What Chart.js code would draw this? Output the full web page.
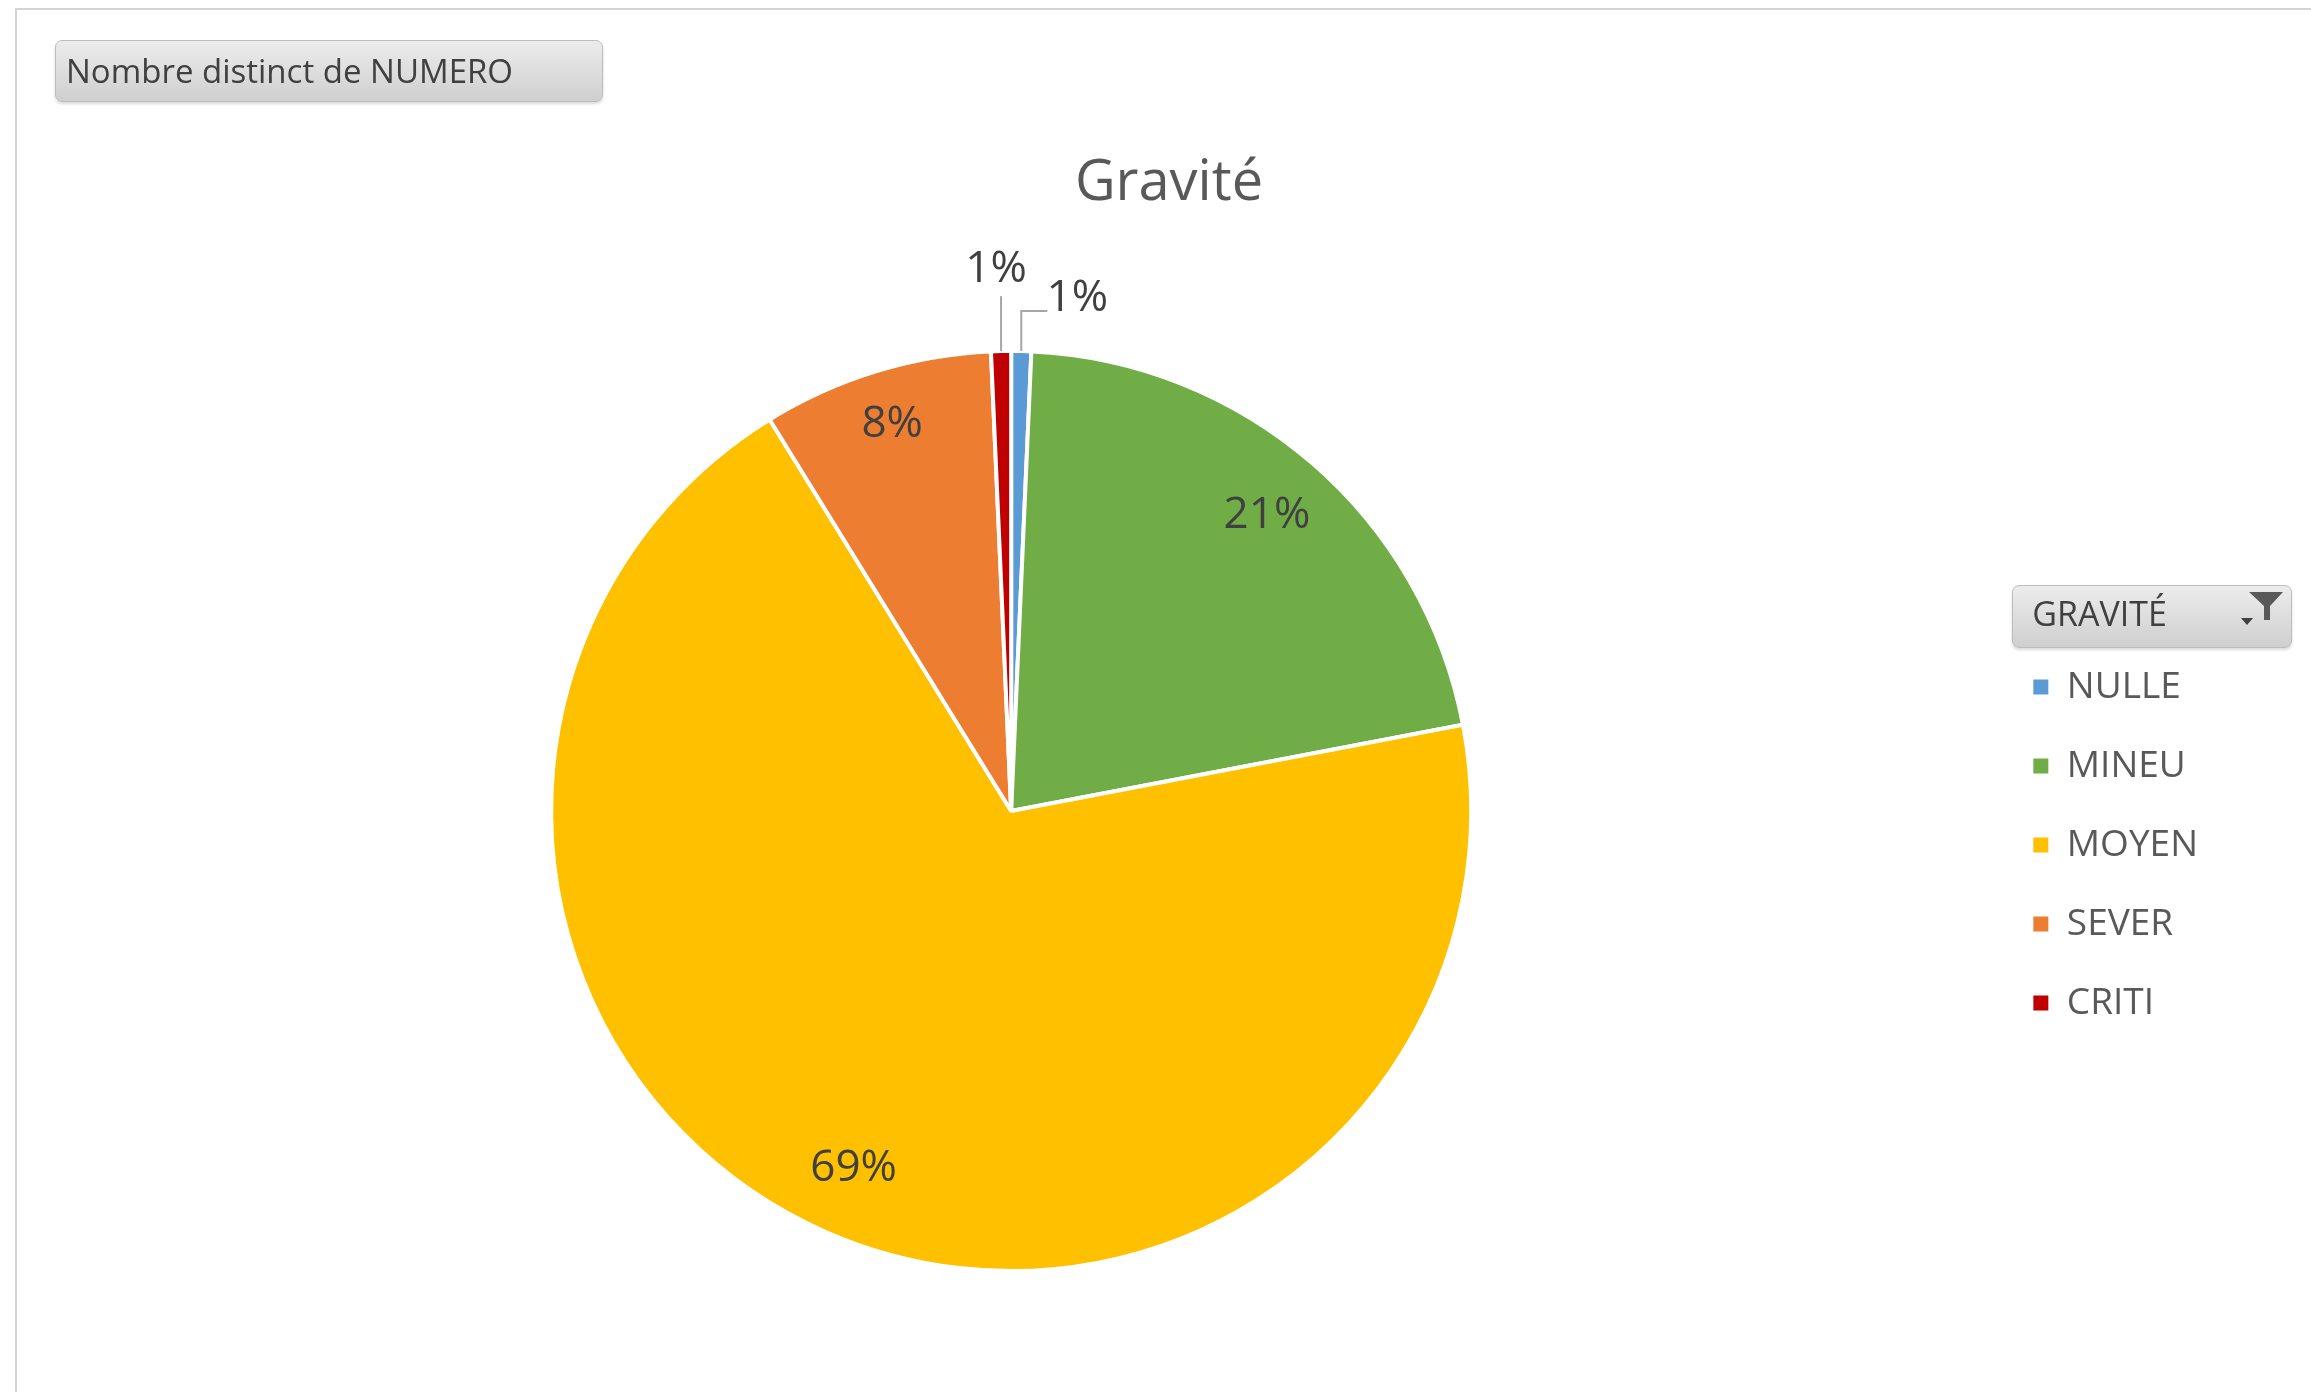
<!DOCTYPE html>
<html>
<head>
<meta charset="utf-8">
<script src="https://cdn.jsdelivr.net/npm/chart.js@4.4.1/dist/chart.umd.min.js"></script>
<style>
  body { margin: 0; background: #fff; font-family: 'Open Sans', sans-serif; }
  .frame { position: absolute; left: 15px; top: 8px; width: 2296px; height: 1384px; border-left: 2px solid #d4d4d4; border-top: 2px solid #d4d4d4; box-sizing: border-box; }
  .btn { position: absolute; border: 1px solid #bdbdbd; border-radius: 7px; background: linear-gradient(#ececec, #cfcfcf); box-shadow: 0 2px 3px rgba(0,0,0,0.15); color: #404040; box-sizing: border-box; }
  .field { left: 55px; top: 40px; width: 548px; height: 62px; font-size: 33px; line-height: 60px; padding-left: 10px; z-index: 2; }
  .legend-head { left: 2012px; top: 585px; width: 280px; height: 63px; }
  .legend-head svg { position: absolute; right: 6px; top: 4px; }
  .title { position: absolute; left: 869px; top: 150px; width: 600px; text-align: center; font-size: 56px; line-height: 56px; color: #595959; z-index: 2; }
  .wrap { position: absolute; left: 0; top: 0; width: 2311px; height: 1395px; z-index: 1; }
</style>
</head>
<body>
<div class="frame"></div>
<div class="btn legend-head">
  <svg width="46" height="40" viewBox="0 0 46 40">
    <path d="M10 2 H44 L31 16 V30 H25 V16 Z" fill="#595959"/>
    <path d="M2 28 H14 L8 35 Z" fill="#404040"/>
  </svg>
</div>
<div class="btn field">Nombre distinct de NUMERO</div>
<div class="title">Gravité</div>
<div class="wrap"><canvas id="pie"></canvas></div>
<script>
const categories = ['NULLE', 'MINEU', 'MOYEN', 'SEVER', 'CRITI'];
const shares = [0.7, 21.3, 69.2, 8.1, 0.7];
const sliceColors = ['#5B9BD5', '#70AD47', '#FFC000', '#ED7D31', '#C00000'];

// percentage labels: inside for big slices, outside with a leader line for tiny ones
const sliceLabels = {
    id: 'sliceLabels',
    afterDatasetsDraw(chart) {
        const ctx = chart.ctx;
        const meta = chart.getDatasetMeta(0);
        const total = shares.reduce((a, b) => a + b, 0);
        ctx.save();
        ctx.font = '44px "Open Sans"';
        ctx.fillStyle = '#404040';
        ctx.strokeStyle = '#a6a6a6';
        ctx.lineWidth = 2;
        ctx.textAlign = 'center';
        ctx.textBaseline = 'middle';
        meta.data.forEach((arc, i) => {
            const { x, y, startAngle, endAngle, outerRadius } = arc.getProps(['x', 'y', 'startAngle', 'endAngle', 'outerRadius'], true);
            const mid = (startAngle + endAngle) / 2;
            const text = Math.round(shares[i] / total * 100) + '%';
            if (shares[i] / total > 0.03) {
                const r = outerRadius * (shares[i] / total < 0.1 ? 0.88 : 0.85);
                ctx.fillText(text, x + Math.cos(mid) * r, y + Math.sin(mid) * r);
            } else {
                const ex = x + Math.cos(mid) * outerRadius;
                const ey = y + Math.sin(mid) * outerRadius;
                ctx.beginPath();
                if (Math.cos(mid) > 0) {
                    ctx.moveTo(ex, ey);
                    ctx.lineTo(ex, ey - 40);
                    ctx.lineTo(ex + 26, ey - 40);
                    ctx.stroke();
                    ctx.fillText(text, ex + 56, ey - 53);
                } else {
                    ctx.moveTo(ex, ey);
                    ctx.lineTo(ex, ey - 55);
                    ctx.stroke();
                    ctx.fillText(text, ex - 5, ey - 82);
                }
            }
        });
        ctx.restore();
    }
};

new Chart(document.getElementById('pie'), {
    type: 'pie',
    data: {
        labels: categories,
        datasets: [{
            data: shares,
            backgroundColor: sliceColors,
            borderColor: '#ffffff',
            borderWidth: 4
        }]
    },
    options: {
        responsive: true,
        maintainAspectRatio: false,
        animation: false,
        layout: {
            padding: { left: 31, right: 103, top: 349, bottom: 122 }
        },
        plugins: {
            tooltip: { enabled: false },
            title: { display: false },
            legend: {
                position: 'right',
                align: 'center',
                title: {
                    display: true,
                    text: 'GRAVITÉ',
                    position: 'center',
                    color: '#404040',
                    font: { family: 'Open Sans', size: 34, weight: 'normal', lineHeight: 1 },
                    padding: { top: 41, bottom: -7 }
                },
                labels: {
                    boxWidth: 15,
                    boxHeight: 15,
                    padding: 42,
                    color: '#595959',
                    font: { family: 'Open Sans', size: 37 },
                    generateLabels: (chart) => chart.data.labels.map((label, i) => ({
                        text: label,
                        fillStyle: sliceColors[i],
                        strokeStyle: sliceColors[i],
                        lineWidth: 0,
                        fontColor: '#595959',
                        hidden: false,
                        index: i
                    }))
                }
            }
        }
    },
    plugins: [sliceLabels]
});
</script>
</body>
</html>
